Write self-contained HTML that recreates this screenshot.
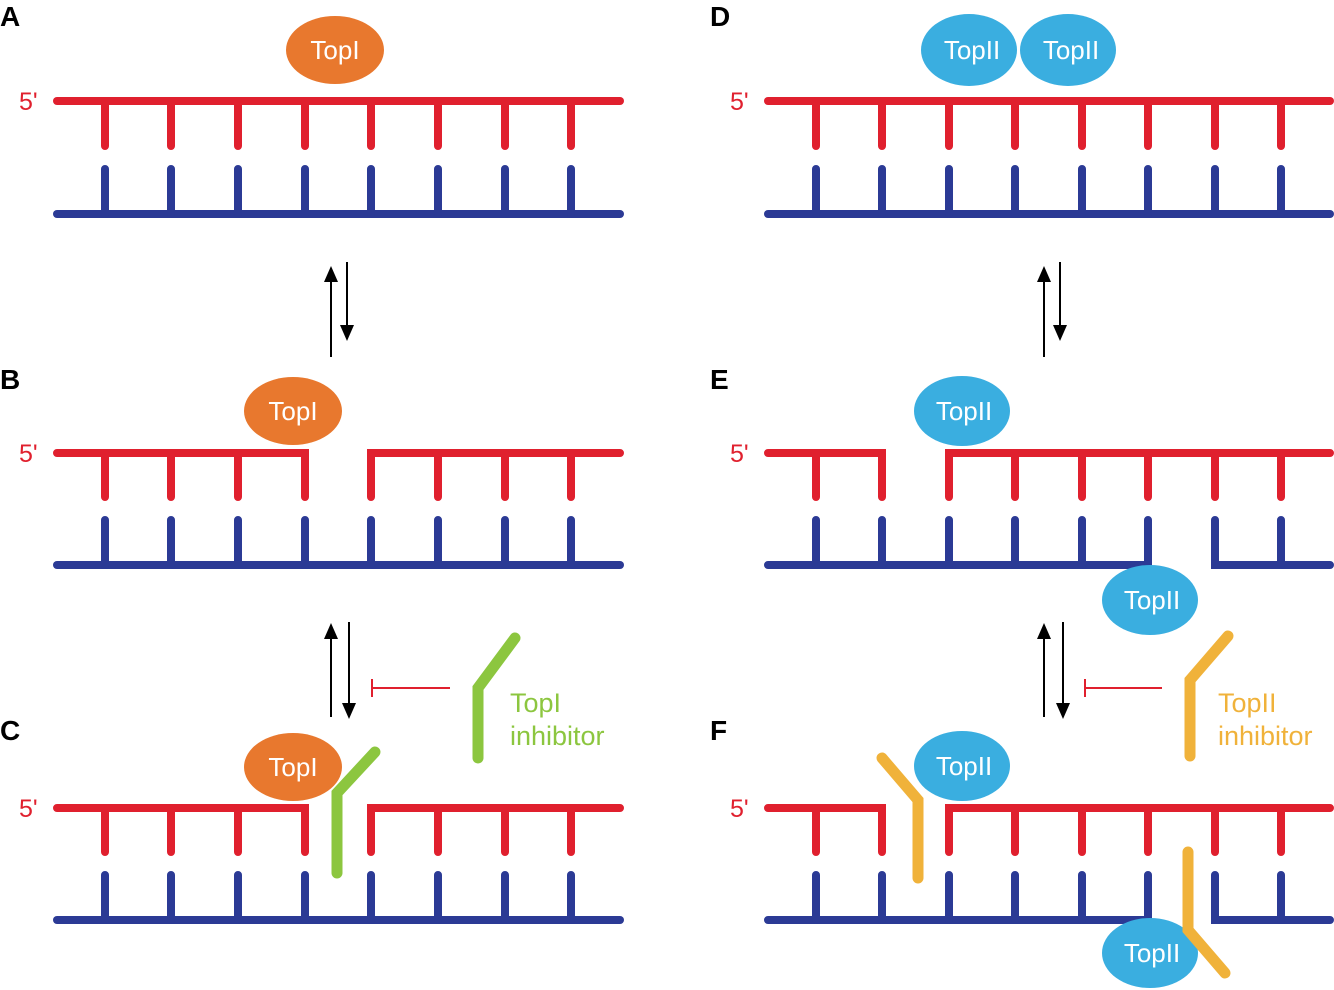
<!DOCTYPE html>
<html><head><meta charset="utf-8"><style>
html,body{margin:0;padding:0;background:#fff;}
svg{display:block;}
text{font-family:"Liberation Sans",sans-serif;}
</style></head><body>
<svg width="1334" height="990" viewBox="0 0 1334 990" xmlns="http://www.w3.org/2000/svg">
<defs>
<marker id="ah" markerWidth="16" markerHeight="14" refX="8" refY="7" orient="auto" markerUnits="userSpaceOnUse" viewBox="0 0 16 14"><path d="M0,0 L16,7 L0,14 z" fill="#000"/></marker>
</defs>
<g stroke-linecap="round" fill="none" stroke-width="8">
<g stroke="#e0202e">
<path d="M57,101H620"/>
<path d="M105,101V146M171,101V146M238,101V146M305,101V146M371,101V146M438,101V146M505,101V146M571,101V146"/>
</g>
<g stroke="#2b3a95">
<path d="M57,214H620"/>
<path d="M105,169V214M171,169V214M238,169V214M305,169V214M371,169V214M438,169V214M505,169V214M571,169V214"/>
</g>
<g stroke="#e0202e">
<path d="M57,453H305V497M371,497V453H620"/>
<path d="M105,453V497M171,453V497M238,453V497M438,453V497M505,453V497M571,453V497"/>
</g>
<g stroke="#2b3a95">
<path d="M57,565H620"/>
<path d="M105,520V565M171,520V565M238,520V565M305,520V565M371,520V565M438,520V565M505,520V565M571,520V565"/>
</g>
<g stroke="#e0202e">
<path d="M57,808H305V852M371,852V808H620"/>
<path d="M105,808V852M171,808V852M238,808V852M438,808V852M505,808V852M571,808V852"/>
</g>
<g stroke="#2b3a95">
<path d="M57,920H620"/>
<path d="M105,875V920M171,875V920M238,875V920M305,875V920M371,875V920M438,875V920M505,875V920M571,875V920"/>
</g>
<g stroke="#e0202e">
<path d="M768,101H1330"/>
<path d="M816,101V146M882,101V146M949,101V146M1015,101V146M1082,101V146M1148,101V146M1215,101V146M1281,101V146"/>
</g>
<g stroke="#2b3a95">
<path d="M768,214H1330"/>
<path d="M816,169V214M882,169V214M949,169V214M1015,169V214M1082,169V214M1148,169V214M1215,169V214M1281,169V214"/>
</g>
<g stroke="#e0202e">
<path d="M768,453H882V497M949,497V453H1330"/>
<path d="M816,453V497M1015,453V497M1082,453V497M1148,453V497M1215,453V497M1281,453V497"/>
</g>
<g stroke="#2b3a95">
<path d="M768,565H1148V520M1215,520V565H1330"/>
<path d="M816,520V565M882,520V565M949,520V565M1015,520V565M1082,520V565M1281,520V565"/>
</g>
<g stroke="#e0202e">
<path d="M768,808H882V852M949,852V808H1330"/>
<path d="M816,808V852M1015,808V852M1082,808V852M1148,808V852M1215,808V852M1281,808V852"/>
</g>
<g stroke="#2b3a95">
<path d="M768,920H1148V875M1215,875V920H1330"/>
<path d="M816,875V920M882,875V920M949,875V920M1015,875V920M1082,875V920M1281,875V920"/>
</g>
</g>
<g fill="#e8782e">
<ellipse cx="335" cy="50" rx="49" ry="34"/>
<ellipse cx="293" cy="411" rx="49" ry="34"/>
<ellipse cx="293" cy="767" rx="49" ry="34"/>
</g>
<g fill="#3aaee0">
<ellipse cx="969" cy="50" rx="48" ry="36"/>
<ellipse cx="1068" cy="50" rx="48" ry="36"/>
<ellipse cx="962" cy="411" rx="48" ry="35"/>
<ellipse cx="1150" cy="600" rx="48" ry="35"/>
<ellipse cx="962" cy="766" rx="48" ry="35"/>
<ellipse cx="1150" cy="953" rx="48" ry="35"/>
</g>
<g fill="#fff" font-size="26" text-anchor="middle">
<text x="335" y="59">TopI</text>
<text x="293" y="420">TopI</text>
<text x="293" y="776">TopI</text>
<text x="972" y="59">TopII</text>
<text x="1071" y="59">TopII</text>
<text x="964" y="420">TopII</text>
<text x="1152" y="609">TopII</text>
<text x="964" y="775">TopII</text>
<text x="1152" y="962">TopII</text>
</g>
<g stroke-linecap="round" fill="none" stroke-width="11">
<path d="M337,873V793L375,752" stroke="#8cc63f"/>
<path d="M478,758V688L515,638" stroke="#8cc63f"/>
<path d="M918,878V800L882,758" stroke="#f0b23a"/>
<path d="M1188,852V930L1225,973" stroke="#f0b23a"/>
<path d="M1190,756V680L1228,636" stroke="#f0b23a"/>
</g>
<g stroke="#000" stroke-width="2">
<path d="M331,357V274" marker-end="url(#ah)"/>
<path d="M347,262V333" marker-end="url(#ah)"/>
<path d="M331,717V631" marker-end="url(#ah)"/>
<path d="M349,622V711" marker-end="url(#ah)"/>
<path d="M1044,357V274" marker-end="url(#ah)"/>
<path d="M1060,262V333" marker-end="url(#ah)"/>
<path d="M1044,717V631" marker-end="url(#ah)"/>
<path d="M1063,622V711" marker-end="url(#ah)"/>
</g>
<g stroke="#e0202e" stroke-width="2">
<path d="M450,688H372M372,679V697"/>
<path d="M1162,688H1085M1085,679V697"/>
</g>
<g font-size="27">
<text x="510" y="712" fill="#8cc63f">TopI</text>
<text x="510" y="745" fill="#8cc63f">inhibitor</text>
<text x="1218" y="712" fill="#f0b23a">TopII</text>
<text x="1218" y="745" fill="#f0b23a">inhibitor</text>
</g>
<g fill="#e0202e" font-size="25">
<text x="19" y="110">5'</text>
<text x="19" y="462">5'</text>
<text x="19" y="817">5'</text>
<text x="730" y="110">5'</text>
<text x="730" y="462">5'</text>
<text x="730" y="817">5'</text>
</g>
<g fill="#000" font-size="28" font-weight="bold">
<text x="0" y="26">A</text>
<text x="0" y="389">B</text>
<text x="0" y="740">C</text>
<text x="710" y="26">D</text>
<text x="710" y="389">E</text>
<text x="710" y="740">F</text>
</g>
</svg>
</body></html>
